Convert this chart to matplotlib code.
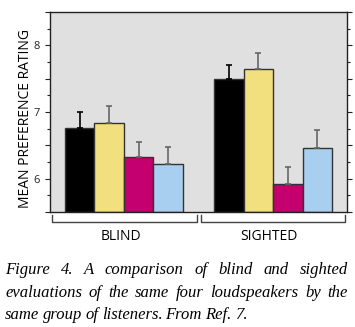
import numpy as np
import matplotlib
matplotlib.use('Agg')
import matplotlib.pyplot as plt
from matplotlib.ticker import MultipleLocator

# mean preference ratings, one list per loudspeaker: [blind, sighted]
groups = ['BLIND', 'SIGHTED']
rating_black = [6.76, 7.49]
rating_yellow = [6.84, 7.65]
rating_magenta = [6.32, 5.92]
rating_blue = [6.22, 6.46]

# upper error bar lengths
err_black = [0.24, 0.21]
err_yellow = [0.25, 0.24]
err_magenta = [0.23, 0.25]
err_blue = [0.25, 0.27]

caption = ["Figure 4. A comparison of blind and sighted",
           "evaluations of the same four loudspeakers by the",
           "same group of listeners. From Ref. 7."]

W, H = 355, 327
fig = plt.figure(figsize=(W / 100, H / 100), dpi=100)
ax = fig.add_axes([50 / W, 1 - 212 / H, 297 / W, 200 / H])
ax.set_facecolor('#e0e0e0')

base = 5.5
group_left = np.array([0.5, 5.55])
series = [(rating_black, err_black, '#000000', '#000000'),
          (rating_yellow, err_yellow, '#f2df7e', '#666666'),
          (rating_magenta, err_magenta, '#c4006e', '#666666'),
          (rating_blue, err_blue, '#a8cff0', '#666666')]

for i, (vals, errs, col, ecol) in enumerate(series):
    vals = np.array(vals)
    x = group_left + i + 0.5
    ax.bar(x, vals - base, bottom=base, width=1.0, color=col,
           edgecolor='#333333', linewidth=1.0, zorder=2)
    ax.errorbar(x, vals, yerr=[np.zeros(len(errs)), errs], fmt='none',
                ecolor=ecol, elinewidth=1.2, capsize=2.5, capthick=1.2, zorder=3)

ax.set_xlim(0, 10.05)
ax.set_ylim(5.5, 8.5)
ax.set_xticks([])
ax.yaxis.set_major_locator(MultipleLocator(0.5))
ax.yaxis.set_minor_locator(MultipleLocator(0.25))
ax.yaxis.set_major_formatter(plt.FuncFormatter(lambda v, p: f'{v:.0f}' if v == int(v) and 5.5 < v < 8.5 else ''))
ax.tick_params(axis='y', which='both', direction='out', right=True, width=0.8, colors='#222222')
ax.tick_params(axis='y', which='major', length=3.5, labelsize=8, pad=4)
ax.tick_params(axis='y', which='minor', length=2)
for lbl in ax.get_yticklabels():
    lbl.set_fontfamily('Open Sans')
for s in ax.spines.values():
    s.set_color('#222222')
    s.set_linewidth(1.0)

ax.set_ylabel('MEAN PREFERENCE RATING', fontsize=10, family='Open Sans')
ax.yaxis.set_label_coords(-0.057, 0.465)

# group brackets under the axis
for (x0, x1), name in zip([(0.008, 0.494), (0.507, 0.993)], groups):
    ax.plot([x0, x0, x1, x1], [-0.015, -0.05, -0.05, -0.015], transform=ax.transAxes,
            color='#444444', linewidth=1.0, clip_on=False)
    fig.text((50 + (x0 + x1) / 2 * 297 - 4) / W, 1 - 237 / H, name, fontsize=10,
             family='Open Sans', ha='center', va='center')

# justified italic caption
renderer = fig.canvas.get_renderer()
left_px, right_px = 5, 348
baselines = [274, 297, 319]
for k, line in enumerate(caption):
    words = line.split(' ')
    texts = [fig.text(0, 1 - baselines[k] / H, w, fontsize=12, family='Liberation Serif',
                      style='italic', va='baseline', ha='left') for w in words]
    widths = [t.get_window_extent(renderer).width for t in texts]
    if k < len(caption) - 1:
        gap = (right_px - left_px - sum(widths)) / (len(words) - 1)
    else:
        gap = texts[0].get_fontsize() * 0.2 * 100 / 72
    x = left_px
    for t, w in zip(texts, widths):
        t.set_x(x / W)
        x += w + gap

fig.savefig('out.png', dpi=100)
